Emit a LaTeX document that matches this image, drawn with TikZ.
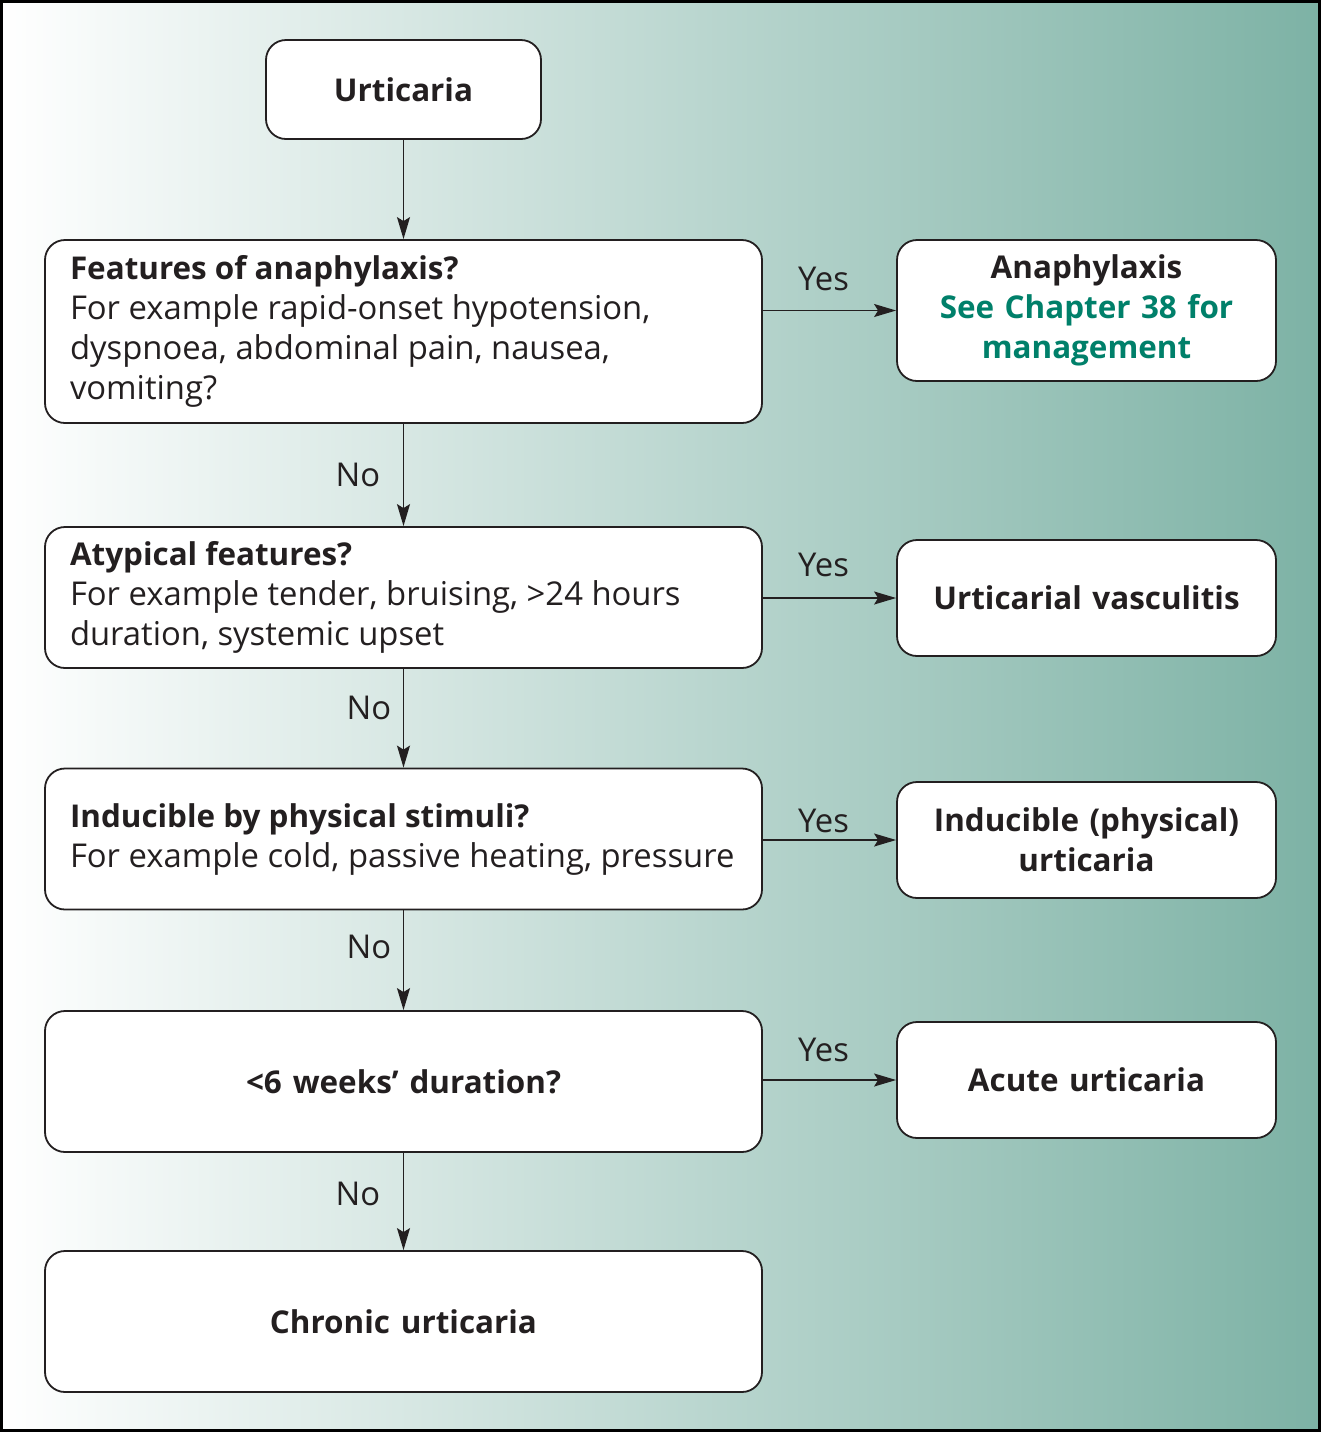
\documentclass[tikz,border=0pt]{standalone}
\usepackage{fontspec}
\setmainfont{Open Sans}
\usetikzlibrary{arrows.meta}
\definecolor{bgteal}{HTML}{7DB2A5}
\definecolor{bgmid}{HTML}{C3D8D4}
\definecolor{chgreen}{HTML}{00806A}
\definecolor{ink}{HTML}{231F20}
\newcommand{\boxfont}{\fontsize{16.4pt}{20pt}\selectfont}
\newcommand{\headfont}{\fontsize{15.7pt}{20pt}\selectfont\bfseries}

\begin{document}
\begin{tikzpicture}[x=0.5pt,y=-0.5pt,font=\boxfont,text=ink]
\tikzstyle{box}=[draw=ink, rounded corners=10pt, fill=white, line width=0.9pt, inner sep=0pt]
\tikzstyle{qbox}=[box, minimum width=358.5pt, minimum height=70.5pt, text width=333.5pt, align=flush left]
\tikzstyle{rbox}=[box, minimum width=189.5pt, minimum height=58pt, text width=180pt, align=center, font=\headfont]
\tikzstyle{link}=[draw=ink, -{Stealth[length=11pt,width=6.5pt,inset=2pt]}, line width=0.7pt]

\useasboundingbox (0,0) rectangle (1321,1432);
\shade[left color=white, middle color=bgmid, right color=bgteal] (0,0) rectangle (1321,1432);
\draw[line width=1.5pt] (1.5,1.5) rectangle (1319.5,1430.5);

\node[box, minimum width=137.5pt, minimum height=49.5pt, font=\headfont] (U) at (403.5,89.5) {Urticaria};

\node[qbox, minimum height=91.5pt] (F) at (403.5,331.5) {{\headfont Features of anaphylaxis?}\\For example rapid-onset hypotension,\\dyspnoea, abdominal pain, nausea,\\vomiting?};
\node[rbox, minimum height=70.5pt] (FY) at (1086.5,310.5) {Anaphylaxis\\\textcolor{chgreen}{See Chapter 38 for}\\\textcolor{chgreen}{management}};

\node[qbox] (A) at (403.5,597.5) {{\headfont Atypical features?}\\For example tender, bruising, >24 hours\\duration, systemic upset};
\node[rbox] (AY) at (1086.5,598) {Urticarial vasculitis};

\node[qbox] (I) at (403.5,839) {{\headfont Inducible by physical stimuli?}\\For example cold, passive heating, pressure};
\node[rbox] (IY) at (1086.5,840) {Inducible (physical)\\urticaria};

\node[qbox, align=center] (W) at (403.5,1081.5) {{\headfont <6 weeks’ duration?}};
\node[rbox] (WY) at (1086.5,1080) {Acute urticaria};

\node[qbox, align=center] (C) at (403.5,1321.5) {{\headfont Chronic urticaria}};

% down the left column
\draw[link] (U) -- (F);
\draw[link] (F) -- node[left=8pt] {No} (A);
\draw[link] (A) -- node[left=2.5pt, pos=0.4] {No} (I);
\draw[link] (I) -- node[left=2.5pt, pos=0.37] {No} (W);
\draw[link] (W) -- node[left=8pt, pos=0.42] {No} (C);

% yes branches
\draw[link] (F.east |- FY.west) -- node[above=6pt, xshift=-3pt] {Yes} (FY.west);
\draw[link] (A.east |- AY.west) -- node[above=7pt, xshift=-3pt] {Yes} (AY.west);
\draw[link] (I.east |- IY.west) -- node[above=0pt, xshift=-3pt] {Yes} (IY.west);
\draw[link] (W.east |- WY.west) -- node[above=5.5pt, xshift=-3pt] {Yes} (WY.west);
\end{tikzpicture}
\end{document}
